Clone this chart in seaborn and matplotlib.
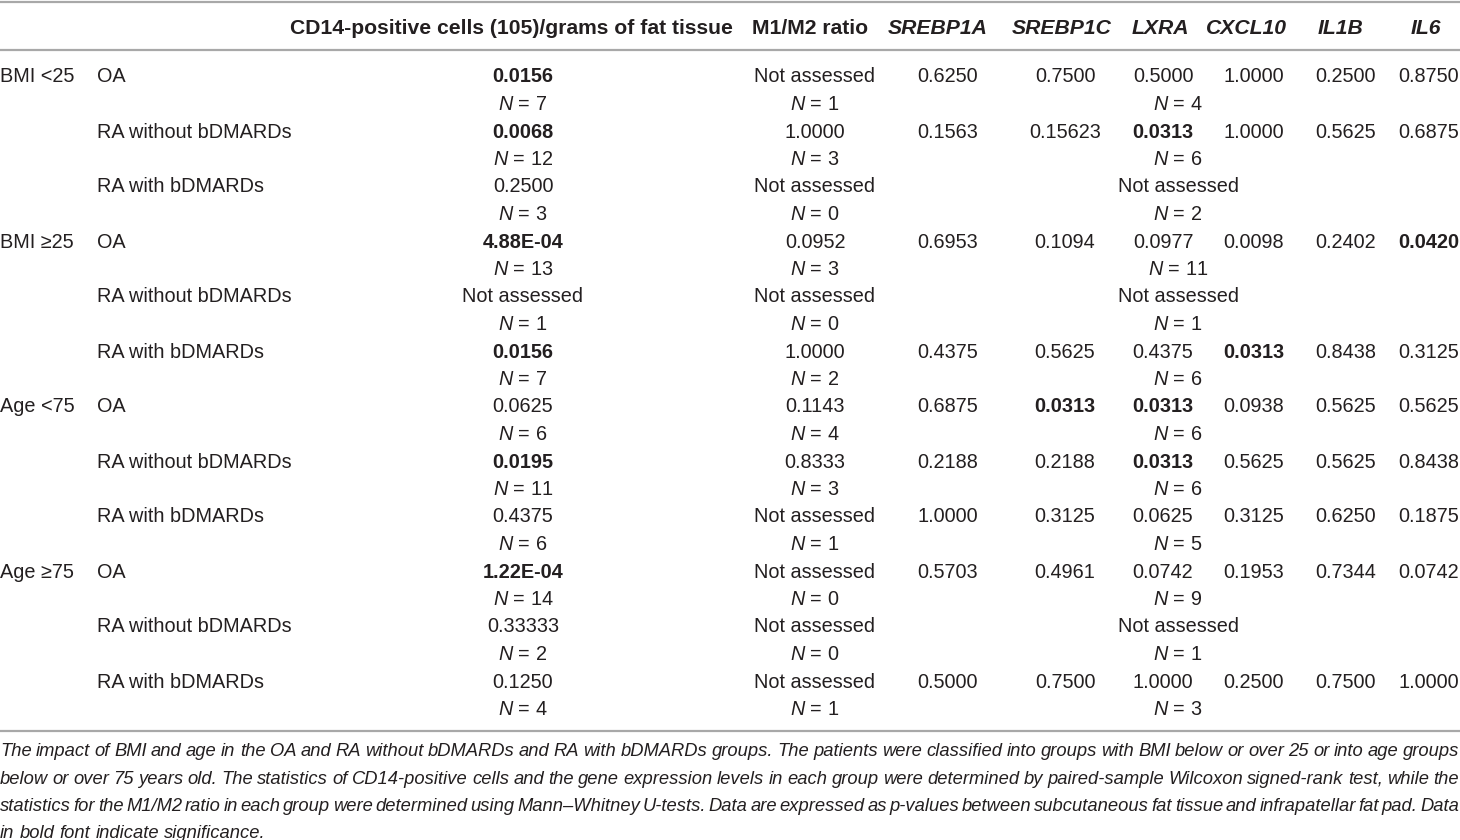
import seaborn as sns
import matplotlib.pyplot as plt
from matplotlib import font_manager

sns.set_theme(style='white')

# pick a narrow font for the caption if there is one
try:
    font_manager.findfont('Liberation Sans Narrow', fallback_to_default=False)
    narrow = 'Liberation Sans Narrow'
except Exception:
    narrow = 'Liberation Sans'

plt.rcParams['font.family'] = ['Liberation Sans', 'DejaVu Sans']
plt.rcParams['mathtext.fontset'] = 'custom'
plt.rcParams['mathtext.rm'] = 'Liberation Sans'
plt.rcParams['mathtext.it'] = 'Liberation Sans:italic'
plt.rcParams['mathtext.bf'] = 'Liberation Sans:bold'

# data
groups = ['BMI <25', 'BMI \u226525', 'Age <75', 'Age \u226575']
subgroups = ['OA', 'RA without bDMARDs', 'RA with bDMARDs']
genes = ['SREBP1A', 'SREBP1C', 'LXRA', 'CXCL10', 'IL1B', 'IL6']

cd14_values = ['0.0156', '0.0068', '0.2500',
               '4.88E-04', 'Not assessed', '0.0156',
               '0.0625', '0.0195', '0.4375',
               '1.22E-04', '0.33333', '0.1250']
cd14_n = [7, 12, 3, 13, 1, 7, 6, 11, 6, 14, 2, 4]
cd14_bold = [True, True, False, True, False, True,
             False, True, False, True, False, False]

m1m2_values = ['Not assessed', '1.0000', 'Not assessed',
               '0.0952', 'Not assessed', '1.0000',
               '0.1143', '0.8333', 'Not assessed',
               'Not assessed', 'Not assessed', 'Not assessed']
m1m2_n = [1, 3, 0, 3, 0, 2, 4, 3, 1, 0, 0, 1]

gene_values = [
    ['0.6250', '0.7500', '0.5000', '1.0000', '0.2500', '0.8750'],
    ['0.1563', '0.15623', '0.0313', '1.0000', '0.5625', '0.6875'],
    None,
    ['0.6953', '0.1094', '0.0977', '0.0098', '0.2402', '0.0420'],
    None,
    ['0.4375', '0.5625', '0.4375', '0.0313', '0.8438', '0.3125'],
    ['0.6875', '0.0313', '0.0313', '0.0938', '0.5625', '0.5625'],
    ['0.2188', '0.2188', '0.0313', '0.5625', '0.5625', '0.8438'],
    ['1.0000', '0.3125', '0.0625', '0.3125', '0.6250', '0.1875'],
    ['0.5703', '0.4961', '0.0742', '0.1953', '0.7344', '0.0742'],
    None,
    ['0.5000', '0.7500', '1.0000', '0.2500', '0.7500', '1.0000'],
]
gene_n = [4, 6, 2, 11, 1, 6, 6, 6, 5, 9, 1, 3]
gene_bold = [(1, 2), (3, 5), (5, 3), (6, 1), (6, 2), (7, 2)]

caption_lines = [
    'The impact of BMI and age in the OA and RA without bDMARDs and RA with bDMARDs groups. '
    'The patients were classified into groups with BMI below or over 25 or into age groups',
    'below or over 75 years old. The statistics of CD14-positive cells and the gene expression '
    'levels in each group were determined by paired-sample Wilcoxon signed-rank test, while the',
    'statistics for the M1/M2 ratio in each group were determined using Mann\u2013Whitney U-tests. '
    'Data are expressed as p-values between subcutaneous fat tissue and infrapatellar fat pad. Data',
    'in bold font indicate significance.',
]

# layout (pixel coordinates)
W, H = 1460, 840
txt = '#231f20'
rule = '#a8a8a8'
fs = 14.3
hfs = 15.2
x_group, x_sub = 0, 97
x_cd14, x_m1m2 = 523, 815
x_genes = [948, 1065, 1163, 1254, 1346, 1429]
x_gene_span = 1178
x_head_genes = [938, 1062, 1160, 1246, 1340, 1426]

fig = plt.figure(figsize=(W / 100, H / 100), dpi=100)
ax = fig.add_axes([0, 0, 1, 1])
ax.set_xlim(0, W)
ax.set_ylim(H, 0)
ax.axis('off')

for y in (2, 50, 731):
    ax.axhline(y, color=rule, lw=1.6)

# header
ax.text(511, 28, 'CD14-positive cells (105)/grams of fat tissue', ha='center', va='center',
        fontsize=hfs, fontweight='bold', color=txt)
ax.text(810, 28, 'M1/M2 ratio', ha='center', va='center', fontsize=hfs,
        fontweight='bold', color=txt)
for g, x in zip(genes, x_head_genes):
    ax.text(x, 28, g, ha='center', va='center', fontsize=hfs, fontweight='bold',
            fontstyle='italic', color=txt)


def ntext(n):
    return r'$\it{N}$ = %d' % n


for i in range(12):
    yv = 77 + 55 * i
    yn = yv + 27.5
    if i % 3 == 0:
        ax.text(x_group, yv, groups[i // 3], ha='left', va='center', fontsize=fs, color=txt)
    ax.text(x_sub, yv, subgroups[i % 3], ha='left', va='center', fontsize=fs, color=txt)

    ax.text(x_cd14, yv, cd14_values[i], ha='center', va='center', fontsize=fs, color=txt,
            fontweight='bold' if cd14_bold[i] else 'normal')
    ax.text(x_cd14, yn, ntext(cd14_n[i]), ha='center', va='center', fontsize=fs, color=txt)

    ax.text(x_m1m2, yv, m1m2_values[i], ha='center', va='center', fontsize=fs, color=txt)
    ax.text(x_m1m2, yn, ntext(m1m2_n[i]), ha='center', va='center', fontsize=fs, color=txt)

    if gene_values[i] is None:
        ax.text(x_gene_span, yv, 'Not assessed', ha='center', va='center', fontsize=fs, color=txt)
    else:
        for j, v in enumerate(gene_values[i]):
            ax.text(x_genes[j], yv, v, ha='center', va='center', fontsize=fs, color=txt,
                    fontweight='bold' if (i, j) in gene_bold else 'normal')
    ax.text(x_gene_span, yn, ntext(gene_n[i]), ha='center', va='center', fontsize=fs, color=txt)

# caption, justified to full width
renderer = fig.canvas.get_renderer()
cap_fs = 13.2
for k, line in enumerate(caption_lines):
    y = 756 + 27.5 * k
    words = line.split(' ')
    objs = [ax.text(0, y, w, ha='left', va='baseline', fontsize=cap_fs, fontstyle='italic',
                    family=narrow, color=txt) for w in words]
    widths = [o.get_window_extent(renderer).width for o in objs]
    space = ax.text(0, y, 'a b', fontsize=cap_fs, fontstyle='italic', family=narrow)
    ab = space.get_window_extent(renderer).width
    a2 = ax.text(0, y, 'ab', fontsize=cap_fs, fontstyle='italic', family=narrow)
    gap_nat = ab - a2.get_window_extent(renderer).width
    space.remove()
    a2.remove()
    if k < len(caption_lines) - 1:
        gap = (W - 1 - sum(widths)) / (len(words) - 1)
    else:
        gap = gap_nat
    x = 0
    for o, w in zip(objs, widths):
        o.set_x(x)
        x += w + gap

fig.savefig('out.png', dpi=100)
